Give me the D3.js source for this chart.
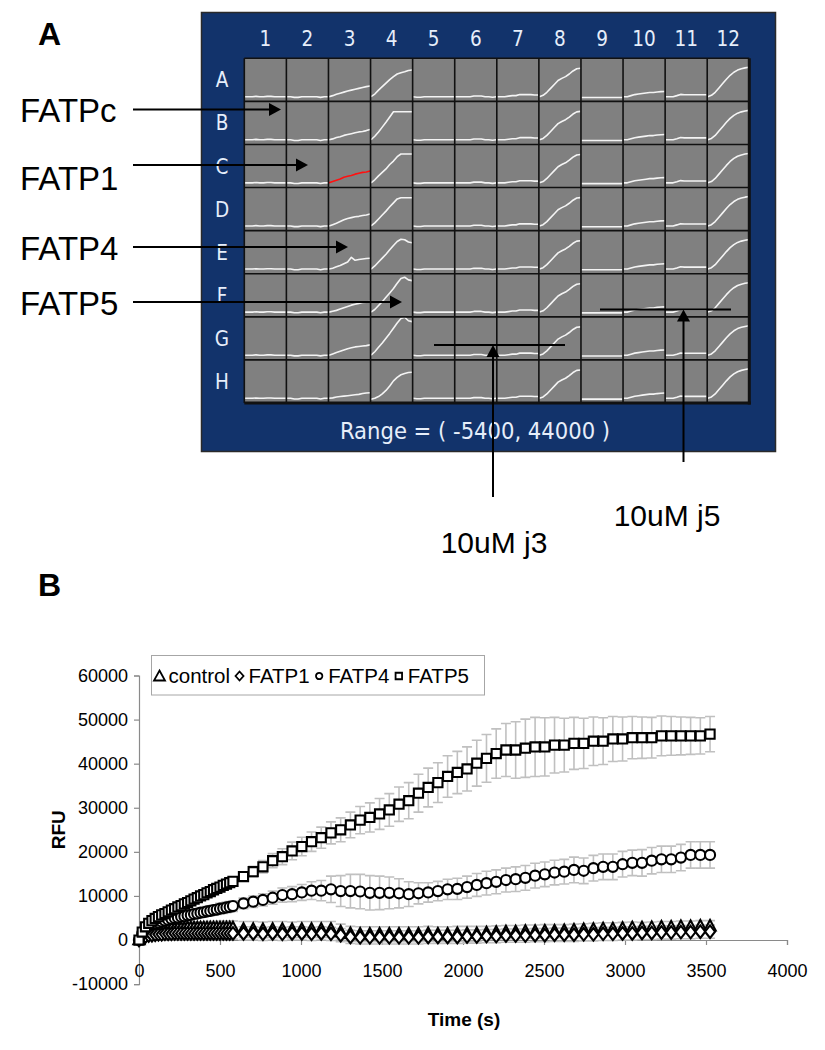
<!DOCTYPE html>
<html><head><meta charset="utf-8">
<script src="https://cdn.jsdelivr.net/npm/d3@7"></script>
<style>body{margin:0;background:#fff}svg{display:block}</style>
</head><body>
<svg id="c" width="825" height="1050"></svg>
<script>
// ---------- Panel A data ----------
const plateCols = ["1","2","3","4","5","6","7","8","9","10","11","12"];
const plateRows = ["A","B","C","D","E","F","G","H"];
const wellRange = [-5400, 44000];
const wellSteps = [0,1,2,3,4,5,6,7,8,9,10,11];
const well1 = [0,0,0,400,0,0,400,400,0,0,0,0];
const well2 = [0,0,-800,-800,0,0,0,0,0,-800,0,0];
const well3 = [
  [0,1200,2800,4000,5200,6500,7500,8500,9500,10500,11500,12200],
  [0,1000,2500,3500,5000,6000,7000,8000,9000,9500,10500,11800],
  [0,1500,3000,4500,6500,7500,8500,10000,11000,12000,12500,13600],
  [0,1500,3000,5000,7000,8500,9500,10500,11000,12000,12500,13700],
  [0,1000,2500,4000,6000,8000,13400,10000,11000,11500,12000,12400],
  [0,1000,2000,3500,5000,6500,8000,9000,10000,11000,11500,12000],
  [0,1500,3000,4500,6000,7500,8500,9500,10000,10500,11000,11800],
  [0,500,1500,2000,2500,3000,3500,4000,4500,5500,6000,6400]
];
const well4 = [
  [0,3000,7500,11500,15500,19500,23000,26000,27500,28500,30000,30600],
  [0,4000,9000,14500,20000,26000,32200,32200,32200,32200,32200,32200],
  [0,3500,8000,12000,16000,21000,25000,30000,33100,33100,33100,33100],
  [0,3500,8000,12500,17000,22000,26500,31000,32400,32400,32400,32400],
  [0,3500,8000,12500,17000,22000,27000,31500,34100,33500,31000,30200],
  [0,3000,7500,12000,17000,22000,27000,33000,38500,40000,37000,36100],
  [0,4000,9000,14000,19500,25000,31000,37000,42000,43500,39500,38500],
  [-1000,0,2000,5000,9000,14000,20000,24000,27000,28500,29500,29800]
];
const well5 = [0,-600,-600,0,0,0,0,0,0,0,0,0];
const well6 = [0,0,0,0,0,800,800,800,0,0,-600,0];
const well7 = [0,0,0,600,1200,1200,2400,2400,2400,2400,2000,2000];
const well8 = [0,1500,5000,9500,14000,18500,21000,23000,26000,29500,32000,32500];
const well9 = [-900,-900,-900,-900,-900,-900,-900,-900,-900,-900,-900,-900];
const well10 = [0,0,1200,2400,3000,3600,4200,4800,4800,5400,5800,6000];
const well11 = [0,0,0,1200,2600,2200,2200,2200,2200,2200,2200,2200];
const well12 = [0,1500,5000,10000,15000,20000,24500,28000,30500,32000,33000,33700];
const highlightWell = ["C","3"];
const rangeLabel = "Range = ( -5400, 44000 )";
const fatpLabels = ["FATPc","FATP1","FATP4","FATP5"];
const inhibitorLabels = ["10uM j3","10uM j5"];

// ---------- Panel B data ----------
const seriesNames = ["control","FATP1","FATP4","FATP5"];
const times = [0,20,40,60,80,100,120,140,160,180,200,220,240,260,280,300,320,340,360,380,400,420,440,460,480,500,520,540,560,580,
 645,705,765,825,885,945,1005,1065,1125,1185,1245,1305,1365,1425,1485,1545,1605,1665,1725,1785,1845,1905,1965,2025,2085,2145,2205,2265,2325,2385,2445,2505,2565,2625,2685,2745,2805,2865,2925,2985,3045,3105,3165,3225,3285,3345,3405,3465,3525];
const controlRFU = [0,800,1300,1700,1900,2100,2200,2300,2400,2400,2500,2500,2600,2600,2600,2700,2700,2700,2700,2700,2700,2700,2700,2700,2700,2700,2700,2700,2700,2700,
 2400,2400,2300,2400,2400,2300,2400,2400,2400,2400,1800,
 1400,1300,1300,1300,1300,1300,1300,1300,1400,1300,1300,1400,1400,1400,
 1600,1700,1800,1800,1900,1900,2000,2000,
 2100,2200,2300,2400,2500,2500,2600,2700,
 2700,2800,2900,2900,3000,3000,3100,3100];
const controlErr = [0,300,500,600,700,800,900,1000,1000,1100,1100,1200,1200,1200,1300,1300,1300,1300,1400,1400,1400,1400,1500,1500,1500,1500,1500,1600,1600,1600,
 1800,1800,1800,1800,1800,1800,1800,1800,1800,1800,1800,
 1700,1700,1700,1700,1700,1700,1700,1700,1700,1700,1700,1700,1700,1700,
 1500,1500,1500,1500,1500,1500,1500,1500,
 1400,1400,1400,1400,1400,1400,1400,1400,
 1300,1300,1300,1300,1300,1300,1300,1300];
const fatp1RFU = [0,500,800,1000,1100,1200,1300,1300,1400,1400,1400,1500,1500,1500,1500,1500,1500,1500,1500,1500,1500,1500,1500,1500,1500,1500,1500,1500,1500,1500,
 1500,1500,1400,1500,1400,1500,1500,1400,1500,1400,1100,
 700,600,600,600,600,600,600,600,700,700,700,700,800,800,
 900,900,1000,1000,1000,1100,1100,1200,1200,1200,1300,
 1300,1400,1400,1500,1500,1600,1600,1700,1700,1800,1800,1900,1900];
const fatp1Err = [0,300,400,500,600,700,800,900,900,1000,1000,1000,1100,1100,1100,1100,1200,1200,1200,1200,1200,1200,1300,1300,1300,1300,1300,1300,1300,1300,
 1500,1500,1500,1500,1500,1500,1500,1500,1500,1500,1500,
 1500,1500,1500,1500,1500,1500,1500,1500,1500,1500,1500,1500,1500,1500,
 1500,1500,1500,1500,1500,1500,1500,1500,1500,1500,1500,
 1500,1500,1500,1500,1500,1500,1500,1500,1500,1500,1500,1500,1500];
const fatp4RFU = [0,1500,2500,3100,3500,3800,4000,4200,4400,4600,4800,5000,5100,5300,5400,5600,5700,5900,6000,6200,6300,6500,6600,6800,6900,7100,7200,7400,7500,7700,
 8300,8700,9100,9600,10200,10400,10800,11200,11200,11500,11100,11100,11000,10700,10700,10700,10600,10400,10600,10800,11100,11500,11600,12000,12500,
 12900,13200,13600,13800,14100,14600,14900,15300,15500,15900,15700,16300,16600,16600,17200,17500,17500,18000,18300,18300,18700,19300,19300,19300];
const fatp4Err = [0,200,300,400,500,500,600,600,700,700,700,800,800,800,900,900,900,1000,1000,1000,1000,1100,1100,1100,1100,1200,1200,1200,1200,1200,
 1200,1300,1400,1500,1600,1700,1800,2000,2300,3000,3500,3800,3900,3900,3800,3600,3300,2800,2400,2200,2200,2300,2400,2500,2600,
 2700,2700,2700,2800,2800,2800,2800,2800,2800,2900,2900,2900,2900,2900,2900,2900,3000,3000,3000,3000,3000,3000,3000,3000];
const fatp5RFU = [0,1800,3000,3800,4400,4900,5300,5700,6000,6400,6800,7100,7500,7800,8200,8500,8900,9300,9600,10000,10300,10700,11000,11400,11700,12000,12400,12700,13000,13300,
 14400,15500,16600,18000,18900,20200,21200,22300,23200,24300,25000,26100,27200,27800,28600,29500,30800,31600,33300,34600,35700,37100,38000,38800,40100,41200,42300,
 43100,43100,43500,43800,43800,44200,44200,44600,44600,45100,45100,45600,45600,45900,45900,45900,46300,46300,46300,46300,46300,46700];
const fatp5Err = [0,200,300,400,400,500,500,500,600,600,600,700,700,700,700,800,800,800,800,800,900,900,900,900,900,1000,1000,1000,1000,1000,
 1000,1200,1400,1600,1800,2000,2100,2200,2400,2500,2700,2900,3100,3300,3500,3700,3900,4100,4300,4400,4500,4700,4800,5000,5200,5400,5600,
 6000,6400,6600,6700,6600,6300,6100,5900,5700,5500,5300,5100,5000,4800,4700,4600,4500,4400,4300,4200,4100,4000];
const xTicks = [0,500,1000,1500,2000,2500,3000,3500,4000];
const yTicks = [-10000,0,10000,20000,30000,40000,50000,60000];
const xTitle = "Time (s)";
const yTitle = "RFU";

// ---------- drawing ----------
const svg = d3.select("#c");
const F = "'Liberation Sans', Arial, Helvetica, sans-serif";
const PF = "'DejaVu Sans Condensed', 'DejaVu Sans', sans-serif";
const fmt = d => String(d); // plain hyphen-minus like the original

// panel letters
svg.append("text").attr("x",38).attr("y",45).attr("font-family",F).attr("font-weight","bold").attr("font-size",32).text("A");
svg.append("text").attr("x",38).attr("y",596).attr("font-family",F).attr("font-weight","bold").attr("font-size",32).text("B");

// plate frame
svg.append("rect").attr("x",201.5).attr("y",12.5).attr("width",574).attr("height",439)
  .attr("fill","#12336b").attr("stroke","#2a2a2a").attr("stroke-width",1.5);

const colX = d3.scaleBand().domain(plateCols).range([244.3, 749.3]);
const rowY = d3.scaleBand().domain(plateRows).range([58.3, 403]);
const bw = colX.bandwidth(), bh = rowY.bandwidth();

svg.append("rect").attr("x",colX.range()[0]).attr("y",rowY.range()[0])
  .attr("width",colX.range()[1]-colX.range()[0]).attr("height",rowY.range()[1]-rowY.range()[0])
  .attr("fill","#808080");

const wellByCol = [well1,well2,well3,well4,well5,well6,well7,well8,well9,well10,well11,well12];
const wellX = d3.scaleLinear().domain([0,11]).range([0.5, bw-0.5]);
const wellY = d3.scaleLinear().domain(wellRange).range([bh, 0]);
const wellLine = d3.line().x((d,i)=>wellX(wellSteps[i])).y(d=>wellY(d));
const gWells = svg.append("g");
plateRows.forEach((r,ri)=>{
  plateCols.forEach((c,ci)=>{
    const w = wellByCol[ci];
    const prof = Array.isArray(w[0]) ? w[ri] : w;
    const red = (r===highlightWell[0] && c===highlightWell[1]);
    gWells.append("path")
      .attr("transform",`translate(${colX(c)},${rowY(r)})`)
      .attr("d", wellLine(prof))
      .attr("fill","none").attr("stroke", red ? "#ff1010" : "#f4f4f4")
      .attr("stroke-width",1.6).attr("stroke-linejoin","round");
  });
});
// grid lines
const gGrid = svg.append("g").attr("stroke","#111").attr("stroke-width",1.6);
plateCols.forEach(c=>{
  gGrid.append("line").attr("x1",colX(c)).attr("x2",colX(c)).attr("y1",rowY.range()[0]).attr("y2",rowY.range()[1]);
});
plateRows.forEach(r=>{
  gGrid.append("line").attr("x1",colX.range()[0]).attr("x2",colX.range()[1]).attr("y1",rowY(r)).attr("y2",rowY(r));
});
gGrid.append("line").attr("x1",colX.range()[1]).attr("x2",colX.range()[1]).attr("y1",rowY.range()[0]).attr("y2",rowY.range()[1]+1.5).attr("stroke-width",3);
gGrid.append("line").attr("x1",colX.range()[0]).attr("x2",colX.range()[1]+1.5).attr("y1",rowY.range()[1]).attr("y2",rowY.range()[1]).attr("stroke-width",3);

// plate labels
svg.append("g").selectAll("text").data(plateCols).join("text")
  .attr("x",c=>colX(c)+bw/2).attr("y",45.5).attr("text-anchor","middle")
  .attr("font-family",PF).attr("font-size",20.5).attr("fill","#e6eefa").text(c=>c);
svg.append("g").selectAll("text").data(plateRows).join("text")
  .attr("x",222).attr("y",r=>rowY(r)+bh/2+7.5).attr("text-anchor","middle")
  .attr("font-family",PF).attr("font-size",20.5).attr("fill","#e6eefa").text(r=>r);
svg.append("text").attr("x",475).attr("y",439).attr("text-anchor","middle")
  .attr("font-family",PF).attr("font-size",23.5).attr("fill","#e6eefa").text(rangeLabel);

// FATP labels with arrows
const arrowY = [109.5,165,247,302];
const arrowTip = [281,308,348,402];
const labelBase = [121.5,190,260,315];
function arrowHead(g, x, y, dir){
  const L=12, H=6.5;
  const p = dir==='right' ? `M${x},${y}L${x-L},${y-H}L${x-L},${y+H}Z` : `M${x},${y}L${x-H},${y+L}L${x+H},${y+L}Z`;
  g.append("path").attr("d",p).attr("fill","#000");
}
const gAnn = svg.append("g");
fatpLabels.forEach((t,i)=>{
  gAnn.append("text").attr("x",20).attr("y",labelBase[i]).attr("font-family",F).attr("font-size",33).text(t);
  gAnn.append("line").attr("x1",133).attr("x2",arrowTip[i]-10).attr("y1",arrowY[i]).attr("y2",arrowY[i]).attr("stroke","#000").attr("stroke-width",1.8);
  arrowHead(gAnn, arrowTip[i], arrowY[i], 'right');
});
const inhib = [
  {h1:434, h2:565, hy:345, vx:493, vy2:497, tx:494, ty:553},
  {h1:600, h2:731, hy:309.5, vx:683.5, vy2:462, tx:667, ty:526}
];
inhib.forEach((a,i)=>{
  gAnn.append("line").attr("x1",a.h1).attr("x2",a.h2).attr("y1",a.hy).attr("y2",a.hy).attr("stroke","#000").attr("stroke-width",2);
  gAnn.append("line").attr("x1",a.vx).attr("x2",a.vx).attr("y1",a.hy+10).attr("y2",a.vy2).attr("stroke","#000").attr("stroke-width",2);
  arrowHead(gAnn, a.vx, a.hy, 'up');
  gAnn.append("text").attr("x",a.tx).attr("y",a.ty).attr("text-anchor","middle").attr("font-family",F).attr("font-size",30).text(inhibitorLabels[i]);
});

// ---------- Panel B ----------
const x = d3.scaleLinear().domain([0,4000]).range([139, 787]);
const y = d3.scaleLinear().domain([-10000,60000]).range([984.1, 675.5]);
const axisColor = "#8a8a8a";

const gy = svg.append("g").attr("transform",`translate(${x(0)},0)`)
  .call(d3.axisLeft(y).tickValues(yTicks).tickSize(5).tickPadding(6).tickFormat(fmt));
gy.select(".domain").attr("stroke",axisColor).attr("stroke-width",1.2);
gy.selectAll(".tick line").attr("stroke",axisColor).attr("stroke-width",1.2);
gy.selectAll(".tick text").attr("font-family",F).attr("font-size",18).attr("fill","#000");
const gx = svg.append("g").attr("transform",`translate(0,${y(0)})`)
  .call(d3.axisBottom(x).tickValues(xTicks).tickSize(5).tickPadding(0).tickFormat(fmt));
gx.select(".domain").attr("stroke",axisColor).attr("stroke-width",1.2);
gx.selectAll(".tick line").attr("stroke",axisColor).attr("stroke-width",1.2);
gx.selectAll(".tick text").attr("font-family",F).attr("font-size",18).attr("fill","#000").attr("dy","0").attr("y",37);

svg.append("text").attr("x",464).attr("y",1026).attr("text-anchor","middle").attr("font-family",F)
  .attr("font-weight","bold").attr("font-size",19).text(xTitle);
svg.append("text").attr("transform",`translate(65,${y(25000)}) rotate(-90)`).attr("text-anchor","middle")
  .attr("font-family",F).attr("font-weight","bold").attr("font-size",19).text(yTitle);

const seriesVals = [controlRFU, fatp1RFU, fatp4RFU, fatp5RFU];
const seriesErr = [controlErr, fatp1Err, fatp4Err, fatp5Err];

const gErr = svg.append("g").attr("stroke","#c0c0c0").attr("stroke-width",1.6).attr("fill","none");
seriesVals.forEach((vals,si)=>{
  vals.forEach((v,i)=>{
    const e = seriesErr[si][i];
    if(!e) return;
    const xx = x(times[i]), y1 = y(v+e), y2 = y(v-e);
    gErr.append("path").attr("d",`M${xx},${y1}V${y2}M${xx-5},${y1}H${xx+5}M${xx-5},${y2}H${xx+5}`);
  });
});

const diamondType = { draw(ctx){ const w=5,h=6.3; ctx.moveTo(0,-h); ctx.lineTo(w,0); ctx.lineTo(0,h); ctx.lineTo(-w,0); ctx.closePath(); } };
const triType = { draw(ctx){ const w=5.6,h=10.5; ctx.moveTo(0,-h*0.6); ctx.lineTo(w,h*0.4); ctx.lineTo(-w,h*0.4); ctx.closePath(); } };
const symbols = [
  d3.symbol().type(triType)(),
  d3.symbol().type(diamondType)(),
  d3.symbol().type(d3.symbolCircle).size(80)(),
  d3.symbol().type(d3.symbolSquare).size(84)()
];
const gMarks = svg.append("g");
seriesVals.forEach((vals,si)=>{
  gMarks.append("g").selectAll("path").data(vals).join("path")
    .attr("transform",(d,i)=>`translate(${x(times[i])},${y(d)})`)
    .attr("d",symbols[si]).attr("fill","#fff").attr("stroke","#000").attr("stroke-width",2.1);
});

// legend
const lg = svg.append("g");
lg.append("rect").attr("x",151.5).attr("y",655.5).attr("width",333).attr("height",39.5)
  .attr("fill","#fff").attr("stroke","#a6a6a6").attr("stroke-width",1);
const legSym = [
  d3.symbol().type({draw(ctx){ctx.moveTo(0,-5.5);ctx.lineTo(5.5,4.5);ctx.lineTo(-5.5,4.5);ctx.closePath();}})(),
  d3.symbol().type({draw(ctx){ctx.moveTo(0,-4.5);ctx.lineTo(4,0);ctx.lineTo(0,4.5);ctx.lineTo(-4,0);ctx.closePath();}})(),
  d3.symbol().type(d3.symbolCircle).size(32)(),
  d3.symbol().type(d3.symbolSquare).size(42)()
];
let lx = 159.5;
seriesNames.forEach((n,i)=>{
  lg.append("path").attr("transform",`translate(${lx},676)`).attr("d",legSym[i]).attr("fill","#fff").attr("stroke","#000").attr("stroke-width",1.8);
  const t = lg.append("text").attr("x",lx+9).attr("y",682.5).attr("font-family",F).attr("font-size",20.5).text(n);
  lx = lx + 9 + t.node().getComputedTextLength() + 9.5;
});
</script>
</body></html>
